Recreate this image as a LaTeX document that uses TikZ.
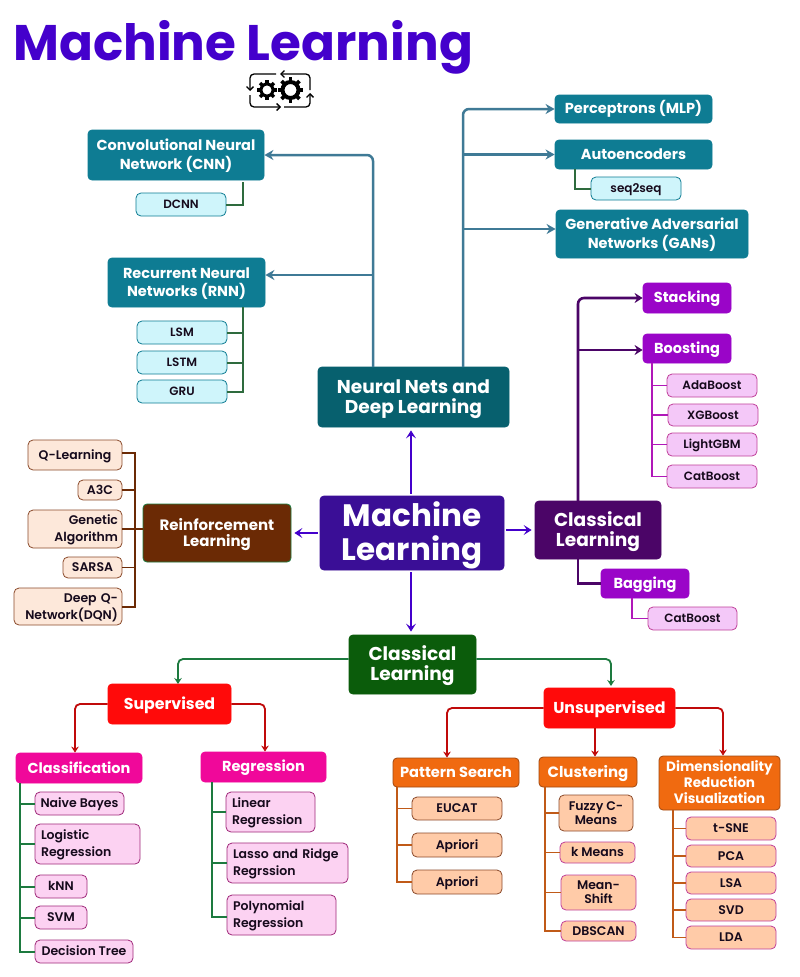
\documentclass[tikz,border=0pt]{standalone}
\usepackage{fontspec}
\setmainfont{Poppins}[UprightFont=* SemiBold,BoldFont=* Bold]
\usetikzlibrary{arrows.meta}
\definecolor{ttl}{HTML}{4400CC}
\definecolor{teal1}{HTML}{0E7C93}
\definecolor{teal2}{HTML}{07606E}
\definecolor{tealln}{HTML}{3F7A96}
\definecolor{cyanf}{HTML}{CFF5FB}
\definecolor{glines}{HTML}{2E6B3E}
\definecolor{ctr}{HTML}{3A0E96}
\definecolor{rein}{HTML}{6B2A05}
\definecolor{peach}{HTML}{FDE8DA}
\definecolor{brownb}{HTML}{8B4A2B}
\definecolor{pur1}{HTML}{4B0567}
\definecolor{pur2}{HTML}{9A05C8}
\definecolor{lilac}{HTML}{F4C8F8}
\definecolor{lilacb}{HTML}{C0409A}
\definecolor{magln}{HTML}{B018B8}
\definecolor{grn1}{HTML}{0B5C0B}
\definecolor{grnln}{HTML}{1D7A3F}
\definecolor{red1}{HTML}{FF0A0A}
\definecolor{redln}{HTML}{C00A0A}
\definecolor{pink1}{HTML}{F0089A}
\definecolor{pinkf}{HTML}{FCD2F2}
\definecolor{pinkb}{HTML}{A0287A}
\definecolor{orng}{HTML}{F06A10}
\definecolor{orngb}{HTML}{A04810}
\definecolor{orngf}{HTML}{FFCBA8}
\definecolor{orngln}{HTML}{C05A18}
\definecolor{ink}{HTML}{160A1C}
\newcommand{\fsz}[2]{\fontsize{#1}{#2}\selectfont}
\newcommand{\bx}[7]{%
  \pgfmathsetmacro{\bw}{#4-#2}\pgfmathsetmacro{\bh}{#5-#3}%
  \pgfmathsetmacro{\bcx}{(#2+#4)/2}\pgfmathsetmacro{\bcy}{(#3+#5)/2}%
  \node[boxbase,minimum width=\bw pt,minimum height=\bh pt,#6] (#1) at (\bcx,\bcy)
    {\rule[-0.25em]{0pt}{1.2em}#7\rule[-0.25em]{0pt}{0.25em}};}
\tikzset{
  boxbase/.style={rectangle,rounded corners=4pt,inner sep=0pt,align=center,line width=0.8pt},
  lefttxt/.style={text width=\bw pt-12pt,align=left},
  righttxt/.style={text width=\bw pt-8pt,align=right},
  white head/.style={text=white,font=\bfseries\fsz{14.5}{18.5}},
  tealbig/.style={white head,fill=teal1,draw=teal1},
  tealsm/.style={fill=cyanf,draw=teal1,font=\fsz{12}{15},text=ink,rounded corners=5pt},
  peachbox/.style={fill=peach,draw=brownb,font=\fsz{12.5}{16.5},text=ink,rounded corners=5pt},
  purbig/.style={white head,fill=pur2,draw=pur2},
  lilacbox/.style={fill=lilac,draw=lilacb,font=\fsz{12}{15},text=ink,rounded corners=5pt},
  redbox/.style={white head,fill=red1,draw=red1,font=\bfseries\fsz{15.8}{18}},
  pinkhead/.style={white head,fill=pink1,draw=pink1},
  pinkbox/.style={fill=pinkf,draw=pinkb,font=\fsz{12.5}{17},text=ink,rounded corners=5pt},
  orhead/.style={white head,fill=orng,draw=orngb,font=\bfseries\fsz{14.6}{16}},
  orbox/.style={fill=orngf,draw=brownb,font=\fsz{12.5}{14},text=ink,rounded corners=5pt},
  orboxp/.style={orbox,draw=lilacb},
  railgreen/.style={draw=glines,line width=2pt},
  railteal/.style={draw=tealln,line width=2.5pt,-{Stealth[length=9pt,width=10pt]}},
  railpur/.style={draw=pur1,line width=2.6pt,-{Stealth[length=8pt,width=10pt]}},
  railbrown/.style={draw=rein,line width=1.8pt},
  railmag/.style={draw=magln,line width=1.8pt},
  mainarrow/.style={draw=ttl,line width=2.4pt,shorten <=2pt,shorten >=3pt,-{Stealth[length=8pt,width=10pt,inset=3.5pt]}},
  treegreen/.style={draw=grnln,line width=1.8pt,-{Stealth[length=6pt,width=7.5pt]}},
  treered/.style={draw=redln,line width=1.8pt,-{Stealth[length=6pt,width=7.5pt]}},
  railor/.style={draw=orngln,line width=1.8pt},
  icon/.style={draw=black,line width=1.3pt,rounded corners=4pt,-{Straight Barb[length=3.5pt,width=7pt]}},
}
\begin{document}
\begin{tikzpicture}[x=1pt,y=-1pt]
\useasboundingbox[fill=white] (0,0) rectangle (800,977);
\node[anchor=base west,inner sep=0pt,text=ttl,font=\bfseries\fsz{50}{54}] (title) at (13,60) {Machine Learning};
% gear icon
\coordinate (ica) at (276,74);\coordinate (icb) at (250,74);\coordinate (icc) at (250,91);
\coordinate (icd) at (310,90);\coordinate (ice) at (310,74);\coordinate (icf) at (280,74);
\coordinate (icg) at (250,95);\coordinate (ich) at (250,107);\coordinate (ici) at (281,107);
\coordinate (icj) at (284,107);\coordinate (ick) at (310,107);\coordinate (icl) at (310,93);
\draw[icon] (ica) -- (icb) -- (icc);
\draw[icon] (icd) -- (ice) -- (icf);
\draw[icon] (icg) -- (ich) -- (ici);
\draw[icon] (icj) -- (ick) -- (icl);
\coordinate (g1) at (267,90);\coordinate (g2) at (290.5,90);
\draw[black,line width=3pt] (g1) circle (6pt);
\draw[black,line width=4pt] (g2) circle (8pt);
\foreach \a in {0,45,...,315}{
  \draw[black,line width=3.2pt] (g1) ++(\a:6pt) -- ++(\a:3.8pt);
  \draw[black,line width=3.8pt] (g2) ++(\a:8pt) -- ++(\a:4.6pt);
}
% top-level
\bx{center}{320}{496}{504}{570}{fill=ctr,draw=ctr,text=white,font=\bfseries\fsz{31}{31}}{Machine\\Learning}
\bx{nn}{318}{367}{509}{427}{fill=teal2,draw=teal2,text=white,font=\bfseries\fsz{18.6}{20}}{Neural Nets and\\Deep Learning}
\bx{rl}{143}{504}{291}{562}{fill=rein,draw=grnln,text=white,font=\bfseries\fsz{15}{16}}{Reinforcement\\Learning}
\bx{cl}{535}{501}{661}{559}{fill=pur1,draw=pur1,text=white,font=\bfseries\fsz{18.6}{20}}{Classical\\Learning}
\bx{cg}{349}{635}{476}{694}{fill=grn1,draw=grn1,text=white,font=\bfseries\fsz{18.6}{20}}{Classical\\Learning}
\coordinate (a1) at (411,0);
\draw[mainarrow] (center.north -| a1) -- (nn.south -| a1);
\draw[mainarrow] (center.south -| a1) -- (cg.north -| a1);
\draw[mainarrow] (center.west |- rl.east) -- (rl.east);
\draw[mainarrow] (center.east |- cl.west) -- (cl.west);
% neural
\bx{cnn}{88}{130}{264}{180}{tealbig}{Convolutional Neural\\Network (CNN)}
\bx{dcnn}{136}{193}{226}{216}{tealsm}{DCNN}
\bx{rnn}{108}{258}{265}{307}{tealbig}{Recurrent Neural\\Networks (RNN)}
\bx{lsm}{137}{321}{227}{344}{tealsm}{LSM}
\bx{lstm}{137}{351}{227}{374}{tealsm}{LSTM}
\bx{gru}{137}{380}{227}{403}{tealsm}{GRU}
\bx{mlp}{555}{95}{712}{123}{tealbig}{Perceptrons (MLP)}
\bx{ae}{555}{140}{712}{169}{tealbig}{Autoencoders}
\bx{s2s}{591}{177}{681}{200}{tealsm}{seq2seq}
\bx{gan}{556}{210}{748}{258}{tealbig}{Generative Adversarial\\Networks (GANs)}
\coordinate (r1) at (243,182);\coordinate (r2) at (243,307);\coordinate (r3) at (575,169);
\draw[railgreen] (r1) |- (dcnn.east);
\draw[railgreen] (r2) |- (lsm.east);
\draw[railgreen] (r2) |- (lstm.east);
\draw[railgreen] (r2) |- (gru.east);
\draw[railgreen] (r3) |- (s2s.west);
\coordinate (t1) at (373,367);\coordinate (t2) at (463,367);
\coordinate (yr) at (0,275);\coordinate (yg) at (0,229);\coordinate (yb) at (0,350);
\draw[railteal,rounded corners=6pt] (t1) |- (cnn.east);
\draw[railteal] (t1 |- yr) -- (rnn.east |- yr);
\draw[railteal,rounded corners=6pt] (t2) |- (mlp.west);
\draw[railteal] (t2 |- ae.west) -- (ae.west);
\draw[railteal] (t2 |- yg) -- (gan.west |- yg);
% reinforcement
\bx{q}{28}{440}{122}{470}{peachbox}{Q-Learning}
\bx{a3c}{78}{480}{122}{500}{peachbox}{A3C}
\bx{ga}{28}{510}{122}{548}{peachbox,righttxt}{Genetic\\Algorithm}
\bx{sarsa}{63}{557}{122}{578}{peachbox}{SARSA}
\bx{dqn}{14}{588}{122}{625}{peachbox,righttxt}{Deep Q-\\Network(DQN)}
\coordinate (b1) at (135,453);\coordinate (b2) at (135,607);
\draw[railbrown] (q.east |- b1) -- (b1) -- (b2) -- (dqn.east |- b2);
\draw[railbrown] (a3c.east) -- (a3c.east -| b1);
\draw[railbrown] (ga.east) -- (ga.east -| rl.west);
\draw[railbrown] (sarsa.east) -- (sarsa.east -| b1);
% classical purple
\bx{stack}{643}{283}{731}{313}{purbig}{Stacking}
\bx{boost}{643}{334}{731}{363}{purbig}{Boosting}
\bx{ada}{667}{374}{757}{397}{lilacbox}{AdaBoost}
\bx{xgb}{668}{404}{758}{426}{lilacbox}{XGBoost}
\bx{lgb}{667}{433}{757}{456}{lilacbox}{LightGBM}
\bx{cat}{667}{465}{757}{488}{lilacbox}{CatBoost}
\bx{bag}{601}{569}{689}{598}{purbig}{Bagging}
\bx{cat2}{648}{607}{737}{630}{lilacbox}{CatBoost}
\coordinate (p1) at (578,501);\coordinate (p2) at (578,559);
\draw[railpur,rounded corners=6pt] (p1) |- (stack.west);
\draw[railpur] (p1 |- yb) -- (boost.west |- yb);
\draw[draw=pur1,line width=2.6pt] (p2) |- (bag.west);
\coordinate (m1) at (652,363);\coordinate (m2) at (632,598);
\draw[railmag] (m1) |- (ada.west);
\draw[railmag] (m1) |- (xgb.west);
\draw[railmag] (m1) |- (lgb.west);
\draw[railmag] (m1) |- (cat.west);
\draw[railmag] (m2) |- (cat2.west);
% supervised
\bx{sup}{108}{684}{231}{724}{redbox}{Supervised}
\bx{uns}{544}{688}{675}{728}{redbox}{Unsupervised}
\draw[treegreen,rounded corners=5pt] (cg.west |- 0,659) -| (178,684);
\draw[treegreen,rounded corners=5pt] (cg.east |- 0,659) -| (611,686);
\bx{cls}{16}{753}{142}{783}{pinkhead}{Classification}
\bx{reg}{201}{752}{326}{782}{pinkhead}{Regression}
\draw[treered,rounded corners=5pt] (sup.west) -| (cls.north -| 75,0);
\draw[treered,rounded corners=5pt] (sup.east) -| (reg.north -| 265,0);
\bx{nb}{35}{792}{124}{815}{pinkbox}{Naive Bayes}
\bx{lr}{35}{824}{140}{864}{pinkbox,lefttxt}{Logistic\\Regression}
\bx{knn}{35}{875}{87}{898}{pinkbox}{kNN}
\bx{svm}{35}{906}{87}{929}{pinkbox}{SVM}
\bx{dt}{35}{940}{133}{963}{pinkbox}{Decision Tree}
\bx{lin}{226}{792}{315}{832}{pinkbox,lefttxt}{Linear\\Regression}
\bx{las}{227}{843}{348}{883}{pinkbox,lefttxt}{Lasso and Ridge\\Regrssion}
\bx{pol}{227}{895}{336}{935}{pinkbox,lefttxt}{Polynomial\\Regression}
\coordinate (c1) at (20,783);\coordinate (c2) at (212,782);
\foreach \n in {nb,lr,knn,svm,dt}{\draw[railgreen,draw=grnln] (c1) |- (\n.west);}
\foreach \n in {lin,las}{\draw[railgreen,draw=grnln] (c2) |- (\n.west);}
\draw[railgreen,draw=grnln] (c2) |- (pol.west |- 0,917);
% unsupervised
\bx{pat}{393}{758}{519}{787}{orhead}{Pattern Search}
\bx{clu}{539}{757}{637}{787}{orhead,font=\bfseries\fsz{15}{16}}{Clustering}
\bx{dim}{659}{756}{780}{810}{orhead,font=\bfseries\fsz{13.6}{16}}{Dimensionality\\Reduction\\Visualization}
\draw[treered,rounded corners=5pt] (uns.west) -| (pat.north -| 447,0);
\draw[treered] (uns.south -| 595,0) -- (clu.north -| 595,0);
\draw[treered,rounded corners=5pt] (uns.east) -| (dim.north -| 723,0);
\bx{euc}{412}{797}{502}{820}{orbox}{EUCAT}
\bx{ap1}{412}{833}{502}{857}{orbox}{Apriori}
\bx{ap2}{412}{870}{502}{894}{orbox}{Apriori}
\bx{fuz}{559}{795}{633}{831}{orbox}{Fuzzy C-\\Means}
\bx{kme}{560}{842}{635}{863}{orboxp}{k Means}
\bx{msh}{561}{875}{636}{910}{orboxp}{Mean-\\Shift}
\bx{dbs}{561}{921}{636}{941}{orboxp}{DBSCAN}
\bx{tsne}{686}{817}{776}{840}{orboxp}{t-SNE}
\bx{pca}{686}{845}{776}{867}{orboxp}{PCA}
\bx{lsa}{686}{872}{776}{894}{orboxp}{LSA}
\bx{svd}{686}{899}{776}{921}{orboxp}{SVD}
\bx{lda}{686}{926}{776}{949}{orboxp}{LDA}
\coordinate (o1) at (397,787);\coordinate (o2) at (545,787);\coordinate (o3) at (673,810);
\foreach \n in {euc,ap1,ap2}{\draw[railor] (o1) |- (\n.west);}
\foreach \n in {fuz,kme,msh,dbs}{\draw[railor] (o2) |- (\n.west);}
\foreach \n in {tsne,pca,lsa,svd,lda}{\draw[railor] (o3) |- (\n.west);}
\end{tikzpicture}
\end{document}
